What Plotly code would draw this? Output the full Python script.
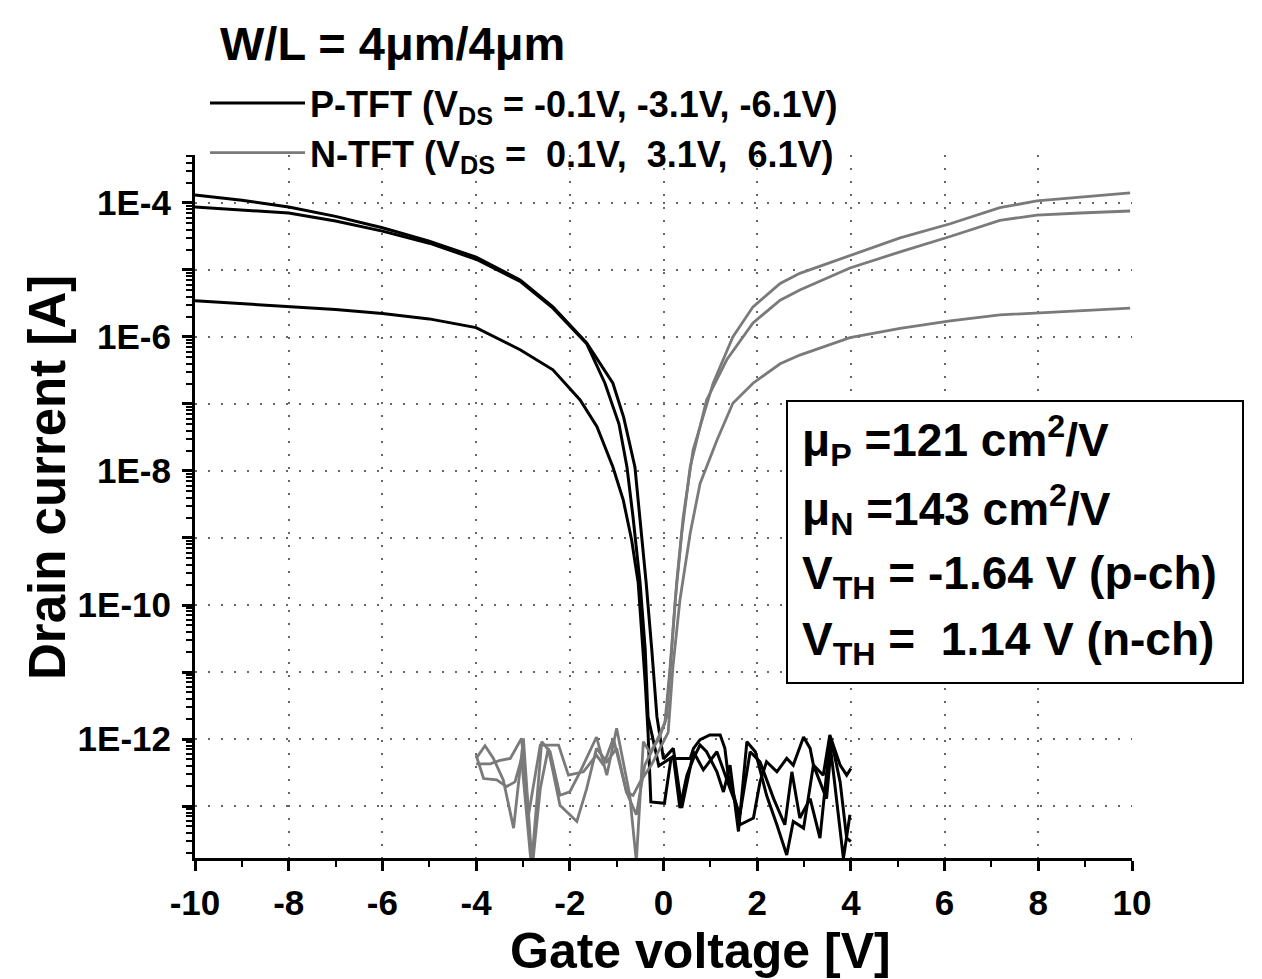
import plotly.graph_objects as go

# ---- data: gate voltage [V] and log10(drain current [A]) ----
# P-TFT, VDS = -6.1 V
p61_vg = [-10, -9, -8, -7, -6, -5, -4, -3.06, -2.36, -1.64, -1.08, -0.85, -0.61, -0.50, -0.37, -0.25, -0.14,
          0.0, 0.21, 0.39, 0.64, 0.85, 1.14, 1.42, 1.63, 1.85, 2.06, 2.35, 2.59, 2.74, 2.91, 3.13, 3.34, 3.55,
          3.84, 3.98]
p61_log = [-3.88, -3.96, -4.06, -4.2, -4.37, -4.57, -4.81, -5.15, -5.55, -6.09, -6.69, -7.2, -7.94, -8.69,
           -9.67, -10.67, -11.67, -12.3, -12.14, -13.03, -12.19, -12.46, -12.19, -12.74, -13.13, -12.19,
           -12.34, -12.89, -13.28, -12.49, -13.18, -12.89, -13.48, -12.04, -13.78, -13.13]
# P-TFT, VDS = -3.1 V
p31_vg = [-10, -9, -8, -7, -6, -5, -4, -3.06, -2.36, -1.64, -1.25, -0.95, -0.78, -0.65, -0.50, -0.39, -0.33,
          -0.1, 0.21, 0.35, 0.5, 0.64, 0.78, 0.92, 1.14, 1.28, 1.42, 1.6, 1.78, 1.96, 2.2, 2.42, 2.63, 2.77,
          2.99, 3.2, 3.34, 3.48, 3.59, 3.77, 3.91, 4.0]
p31_log = [-4.06, -4.1, -4.15, -4.27, -4.42, -4.6, -4.84, -5.17, -5.57, -6.1, -6.69, -7.3, -7.94, -8.69,
           -9.67, -10.67, -11.67, -12.4, -12.26, -13.03, -12.54, -12.29, -12.09, -12.19, -12.49, -12.79,
           -12.39, -13.38, -12.04, -12.19, -12.84, -13.28, -13.73, -13.23, -13.33, -12.39, -12.64, -12.89,
           -12.04, -12.64, -13.48, -13.53]
# P-TFT, VDS = -0.1 V
p01_vg = [-10, -9, -8, -7, -6, -5, -4, -3.06, -2.36, -1.78, -1.42, -1.08, -0.86, -0.68, -0.54, -0.46, -0.39,
          -0.33, -0.27, 0.02, 0.16, 0.57, 0.64, 0.78, 0.99, 1.21, 1.31, 1.38, 1.56, 1.63, 1.92, 2.06, 2.2,
          2.42, 2.63, 2.77, 2.91, 2.99, 3.13, 3.2, 3.41, 3.55, 3.77, 3.91, 4.0]
p01_log = [-5.46, -5.5, -5.54, -5.59, -5.65, -5.73, -5.86, -6.19, -6.49, -6.94, -7.34, -7.94, -8.43, -9.03,
           -9.67, -10.42, -11.16, -11.9, -12.94, -12.96, -12.29, -12.29, -12.14, -12.01, -11.94, -11.94,
           -12.14, -12.54, -12.99, -13.28, -13.18, -12.64, -12.34, -12.49, -12.29, -12.39, -12.14, -11.97,
           -12.14, -12.39, -12.54, -11.94, -12.39, -12.54, -12.44]
# N-TFT, VDS = 6.1 V
n61_vg = [-4.0, -3.81, -3.63, -3.42, -3.2, -2.99, -2.81, -2.6, -2.42, -2.21, -2.0, -1.78, -1.43, -1.21, -1.0,
          -0.72, -0.58, -0.43, -0.29, -0.1, 0.07, 0.18, 0.28, 0.42, 0.63, 1.06, 1.48, 1.91, 2.49, 2.91, 3.98,
          5.05, 6.12, 7.18, 7.97, 8.89, 9.96]
n61_log = [-12.29, -12.1, -12.29, -12.61, -13.33, -11.99, -13.83, -12.04, -12.19, -12.84, -12.79, -12.49,
           -11.97, -12.54, -11.84, -12.84, -13.83, -12.04, -12.2, -12.0, -11.67, -10.67, -9.67, -8.69, -7.69,
           -6.69, -6.0, -5.55, -5.2, -5.05, -4.78, -4.52, -4.31, -4.07, -3.97, -3.91, -3.85]
# N-TFT, VDS = 3.1 V
n31_vg = [-4.0, -3.7, -3.49, -3.27, -3.03, -2.88, -2.63, -2.24, -2.03, -1.71, -1.43, -1.28, -1.07, -0.79,
          -0.58, -0.4, -0.22, 0.03, 0.14, 0.25, 0.39, 0.57, 0.92, 1.35, 1.91, 2.49, 2.91, 3.98, 5.05, 6.12,
          7.18, 7.97, 8.89, 9.96]
n31_log = [-12.37, -12.37, -12.32, -12.29, -11.99, -13.13, -12.09, -12.09, -12.54, -12.49, -12.24, -12.39,
           -11.99, -12.79, -13.13, -12.39, -12.14, -11.76, -10.93, -9.93, -8.93, -7.94, -6.94, -6.34, -5.79,
           -5.45, -5.3, -4.97, -4.73, -4.5, -4.26, -4.18, -4.15, -4.12]
# N-TFT, VDS = 0.1 V
n01_vg = [-4.0, -3.84, -3.56, -3.35, -3.17, -3.03, -2.81, -2.63, -2.46, -2.21, -1.85, -1.64, -1.43, -1.21,
          -1.0, -0.79, -0.65, -0.5, -0.26, 0.1, 0.2, 0.35, 0.57, 0.78, 1.14, 1.48, 1.91, 2.49, 2.91, 3.98,
          5.05, 6.12, 7.18, 7.97, 9.96]
n01_log = [-12.24, -12.59, -12.61, -12.71, -12.64, -12.29, -13.98, -12.74, -12.14, -12.99, -13.23, -12.74,
           -12.14, -12.34, -12.14, -12.79, -12.84, -12.64, -12.39, -11.9, -10.93, -9.93, -8.93, -8.19, -7.54,
           -6.99, -6.69, -6.4, -6.27, -6.01, -5.87, -5.76, -5.67, -5.64, -5.57]

x_ticks = [-10, -8, -6, -4, -2, 0, 2, 4, 6, 8, 10]
y_decades = [-13, -12, -11, -10, -9, -8, -7, -6, -5, -4]
y_labels = ["", "1E-12", "", "1E-10", "", "1E-8", "", "1E-6", "", "1E-4"]

legend_p = "P-TFT (V<sub>DS</sub> = -0.1V, -3.1V, -6.1V)"
legend_n = "N-TFT (V<sub>DS</sub> =\u00a0 0.1V,\u00a0 3.1V,\u00a0 6.1V)"
box_lines = ["\u03bc<sub>P</sub> =121 cm<sup>2</sup>/V",
             "\u03bc<sub>N</sub> =143 cm<sup>2</sup>/V",
             "V<sub>TH</sub> = -1.64 V (p-ch)",
             "V<sub>TH</sub> =\u00a0 1.14 V (n-ch)"]

# ---- layout geometry (screen pixels; the page body adds an 8px offset) ----
OFF = 8
W, H = 1262 - OFF, 979 - OFF
L, R, T, B = 195, 1132, 155, 858   # plot area in screen pixels


def px(x):
    return (x - L) / (R - L)


def py(y):
    return (B - y) / (B - T)


FONT = "Liberation Sans, Arial, Helvetica, sans-serif"
BLACK = "#000000"
GRAY = "#7a7a7a"

fig = go.Figure()

p_series = [(p01_vg, p01_log), (p31_vg, p31_log), (p61_vg, p61_log)]
n_series = [(n01_vg, n01_log), (n31_vg, n31_log), (n61_vg, n61_log)]

for i, (vg, lg) in enumerate(p_series):
    fig.add_trace(go.Scatter(x=vg, y=[10 ** v for v in lg], mode="lines",
                             line=dict(color=BLACK, width=3), name=legend_p,
                             legendgroup="p", showlegend=(i == 0)))
for i, (vg, lg) in enumerate(n_series):
    fig.add_trace(go.Scatter(x=vg, y=[10 ** v for v in lg], mode="lines",
                             line=dict(color=GRAY, width=2.8), name=legend_n,
                             legendgroup="n", showlegend=(i == 0)))

minor_y = [m * 10.0 ** k for k in range(-14, -3) for m in range(2, 10)]

fig.update_layout(
    width=W, height=H, autosize=False,
    margin=dict(l=L - OFF, r=W - (R - OFF), t=T - OFF, b=H - (B - OFF), pad=0),
    paper_bgcolor="white", plot_bgcolor="white",
    font=dict(family=FONT, color=BLACK),
    showlegend=True,
    legend=dict(x=px(205), y=py(73), xanchor="left", yanchor="top",
                itemwidth=95, traceorder="normal", tracegroupgap=0,
                bgcolor="rgba(0,0,0,0)",
                font=dict(family=FONT, size=36, color=BLACK, weight="bold")),
    xaxis=dict(range=[-10, 10], tickmode="array", tickvals=x_ticks,
               ticktext=[str(v) for v in x_ticks],
               ticks="outside", ticklen=10, tickwidth=3, tickcolor=BLACK,
               ticklabelstandoff=2,
               showline=True, linewidth=3, linecolor=BLACK, zeroline=False,
               showgrid=True, gridcolor="#666666", gridwidth=1.5, griddash="2px,11px",
               tickfont=dict(family=FONT, size=35, color=BLACK, weight="bold"),
               minor=dict(dtick=1, tick0=-10, ticks="outside", ticklen=6, tickwidth=2,
                          tickcolor=BLACK, showgrid=False)),
    yaxis=dict(type="log", range=[-13.776, -3.284], tickmode="array",
               tickvals=[10.0 ** k for k in y_decades], ticktext=y_labels,
               ticks="outside", ticklen=10, tickwidth=3, tickcolor=BLACK,
               ticklabelstandoff=4,
               showline=True, linewidth=3, linecolor=BLACK, zeroline=False,
               showgrid=True, gridcolor="#666666", gridwidth=1.5, griddash="2px,11px",
               tickfont=dict(family=FONT, size=35, color=BLACK, weight="bold"),
               minor=dict(tickmode="array", tickvals=minor_y, ticks="outside", ticklen=6,
                          tickwidth=2, tickcolor=BLACK, showgrid=False)),
)

# parameter box
fig.add_shape(type="rect", xref="paper", yref="paper",
              x0=px(787), x1=px(1243), y0=py(683), y1=py(401),
              line=dict(color=BLACK, width=2), fillcolor="white", layer="above")

annotations = [
    dict(text="W/L = 4\u03bcm/4\u03bcm", x=px(218), y=py(44), xanchor="left", yanchor="middle",
         font=dict(size=47, weight="bold")),
    dict(text="Gate voltage [V]", x=px(700), y=py(951), xanchor="center", yanchor="middle",
         font=dict(size=50, weight="bold")),
    dict(text="Drain current [A]", x=px(47), y=py(478), xanchor="center", yanchor="middle",
         textangle=-90, font=dict(size=51, weight="bold")),
]
for txt, yc in zip(box_lines, [440, 509, 576, 642]):
    annotations.append(dict(text=txt, x=px(800), y=py(yc), xanchor="left", yanchor="middle",
                            font=dict(size=46, weight="bold")))
for a in annotations:
    a.update(xref="paper", yref="paper", showarrow=False)
    a["font"].update(family=FONT, color=BLACK)
fig.update_layout(annotations=annotations)

fig.write_html("out.html")
